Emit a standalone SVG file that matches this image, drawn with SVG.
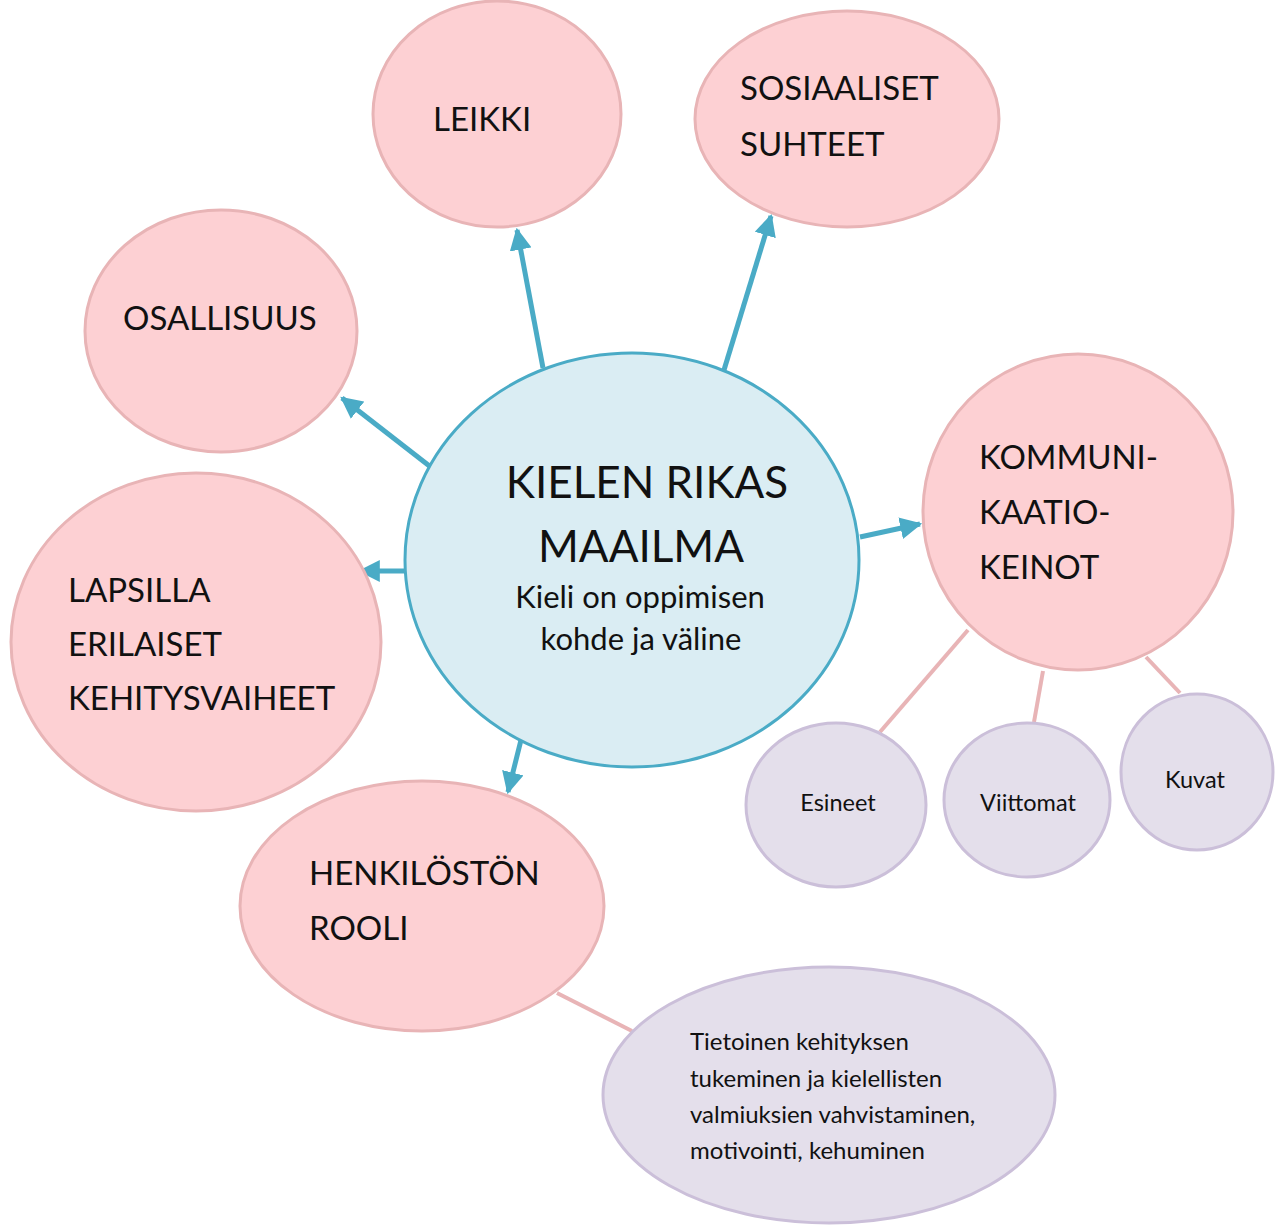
<svg xmlns="http://www.w3.org/2000/svg" width="1277" height="1225" viewBox="0 0 1277 1225">
<defs>
<style>
.pink{fill:#fdd0d3;stroke:#e8b4b6;stroke-width:3}
.purple{fill:#e4dfeb;stroke:#cbbfd9;stroke-width:3}
.center{fill:#daedf3;stroke:#4aabc6;stroke-width:3}
.arrow{stroke:#4aabc6;stroke-width:5;fill:none;marker-end:url(#ah)}
.link{stroke:#e8b4b6;stroke-width:4;fill:none}
text{font-family:Lato,"Open Sans","Liberation Sans",sans-serif;fill:#111}
.big{font-size:33px}
.title{font-size:44px;text-anchor:middle}
.sub{font-size:31px;text-anchor:middle}
.small{font-size:23.5px;text-anchor:middle}
.note{font-size:24px}
</style>
<marker id="ah" viewBox="0 0 10 10" refX="9" refY="5" markerWidth="4.4" markerHeight="4.4" orient="auto" markerUnits="strokeWidth">
<path d="M0,0 L10,5 L0,10 z" fill="#4aabc6"/>
</marker>
</defs>
<rect width="1277" height="1225" fill="#fff"/>
<g id="connectors">
<line class="link" x1="968" y1="630" x2="880" y2="732"/>
<line class="link" x1="1043" y1="671" x2="1034" y2="722"/>
<line class="link" x1="1146" y1="657" x2="1180" y2="693"/>
<line class="link" x1="557" y1="993" x2="632" y2="1031"/>
<line class="arrow" x1="432" y1="468" x2="342" y2="398"/>
<line class="arrow" x1="543" y1="368" x2="517" y2="230"/>
<line class="arrow" x1="724" y1="370" x2="771" y2="216"/>
<line class="arrow" x1="406" y1="571" x2="360" y2="571"/>
<line class="arrow" x1="860" y1="537" x2="920" y2="524"/>
<line class="arrow" x1="521" y1="740" x2="508" y2="792"/>
</g>
<g id="center">
<ellipse class="center" cx="632" cy="560" rx="227" ry="207"/>
<text class="title" x="647" y="498">KIELEN RIKAS</text>
<text class="title" x="641" y="562">MAAILMA</text>
<text class="sub" x="640" y="608">Kieli on oppimisen</text>
<text class="sub" x="641" y="650">kohde ja väline</text>
</g>
<g id="leikki">
<ellipse class="pink" cx="497" cy="114" rx="124" ry="113"/>
<text class="big" x="433" y="131">LEIKKI</text>
</g>
<g id="sosiaaliset">
<ellipse class="pink" cx="847" cy="119" rx="152" ry="108"/>
<text class="big" x="740" y="100">SOSIAALISET</text>
<text class="big" x="740" y="156">SUHTEET</text>
</g>
<g id="osallisuus">
<ellipse class="pink" cx="221" cy="331" rx="136" ry="121"/>
<text class="big" x="123" y="330">OSALLISUUS</text>
</g>
<g id="lapsilla">
<ellipse class="pink" cx="196" cy="642" rx="185" ry="169"/>
<text class="big" x="68" y="602">LAPSILLA</text>
<text class="big" x="68" y="656">ERILAISET</text>
<text class="big" x="68" y="710">KEHITYSVAIHEET</text>
</g>
<g id="kommunikaatio">
<ellipse class="pink" cx="1078" cy="512" rx="155" ry="158"/>
<text class="big" x="979" y="469">KOMMUNI-</text>
<text class="big" x="979" y="524">KAATIO-</text>
<text class="big" x="979" y="579">KEINOT</text>
</g>
<g id="henkilosto">
<ellipse class="pink" cx="422" cy="906" rx="182" ry="125"/>
<text class="big" x="309" y="885">HENKILÖSTÖN</text>
<text class="big" x="309" y="940">ROOLI</text>
</g>
<g id="esineet">
<ellipse class="purple" cx="836" cy="805" rx="90" ry="82"/>
<text class="small" x="838" y="811">Esineet</text>
</g>
<g id="viittomat">
<ellipse class="purple" cx="1027" cy="800" rx="83" ry="77"/>
<text class="small" x="1028" y="811">Viittomat</text>
</g>
<g id="kuvat">
<ellipse class="purple" cx="1197" cy="772" rx="76" ry="78"/>
<text class="small" x="1195" y="788">Kuvat</text>
</g>
<g id="tietoinen">
<ellipse class="purple" cx="829" cy="1095" rx="226" ry="128"/>
<text class="note" x="690" y="1050">Tietoinen kehityksen</text>
<text class="note" x="690" y="1087">tukeminen ja kielellisten</text>
<text class="note" x="690" y="1123">valmiuksien vahvistaminen,</text>
<text class="note" x="690" y="1159">motivointi, kehuminen</text>
</g>
</svg>
